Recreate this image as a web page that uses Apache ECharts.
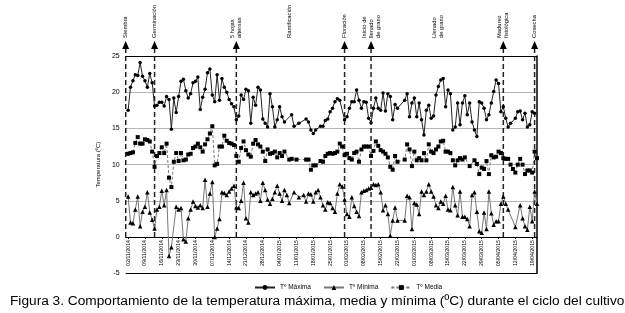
<!DOCTYPE html>
<html>
<head>
<meta charset="utf-8">
<script src="https://cdn.jsdelivr.net/npm/echarts@6.0.0/dist/echarts.min.js"></script>
<style>
  html, body { margin: 0; padding: 0; background: #fff; }
  #main { width: 625px; height: 313px; }
</style>
</head>
<body>
<div id="main"></div>
<script>
  // días contados desde el 02/11/2014 (día 0)
  const weekLabels = ['02/11/2014', '09/11/2014', '16/11/2014', '23/11/2014', '30/11/2014', '07/12/2014', '14/12/2014',
    '21/12/2014', '28/12/2014', '04/01/2015', '11/01/2015', '18/01/2015', '25/01/2015', '01/02/2015', '08/02/2015',
    '15/02/2015', '22/02/2015', '01/03/2015', '08/03/2015', '15/03/2015', '22/03/2015', '29/03/2015', '05/04/2015',
    '12/04/2015', '19/04/2015']

  const maxDays = [0, 1, 2, 3, 4, 5, 6, 7, 8, 9, 10, 11, 12, 13, 14, 15, 16, 17, 18, 19, 20, 21, 22, 23, 24, 25, 26, 27, 28, 29,
    30, 31, 32, 33, 34, 35, 36, 37, 38, 39, 40, 41, 42, 43, 44, 45, 46, 47, 48, 49, 50, 51, 52, 53, 54, 55, 56, 57, 58, 59,
    60, 61, 62, 63, 64, 65, 68, 69, 71, 74, 75, 76, 77, 78, 80, 81, 82, 83, 84, 85, 86, 87, 88, 90, 91, 92, 93, 94, 95, 96,
    97, 98, 99, 100, 101, 102, 103, 104, 105, 106, 107, 108, 109, 110, 111, 112, 115, 116, 117, 118, 119, 120, 121, 122, 123,
    124, 125, 126, 127, 128, 129, 130, 131, 132, 133, 134, 135, 136, 137, 138, 139, 140, 141, 142, 143, 144, 145, 146, 147,
    148, 149, 150, 151, 152, 153, 154, 155, 156, 157, 158, 159, 161, 162, 163, 164, 165, 166, 167, 168, 169]
  const maxValues = [17.5, 20.7, 21.6, 22.4, 22.3, 24.1, 22.2, 21.6, 20.7, 22.6, 21.3, 18.1, 18.2, 18.6, 18.6, 18.1, 19.4, 19.0,
    14.9, 19.2, 17.2, 19.4, 21.5, 21.8, 20.2, 19.2, 19.8, 21.3, 21.5, 22.1, 17.6, 19.3, 20.4, 22.7, 23.2, 19.6, 18.7, 22.4,
    18.9, 21.9, 20.7, 20.0, 19.0, 18.4, 18.0, 16.2, 16.7, 19.6, 19.0, 20.4, 20.2, 15.7, 19.3, 18.2, 20.7, 20.3, 16.3, 15.7,
    15.2, 19.8, 18.0, 15.2, 16.2, 18.0, 16.6, 15.9, 16.9, 15.3, 15.7, 16.3, 15.9, 14.8, 14.3, 14.8, 15.3, 15.3, 16.1, 16.3,
    17.3, 17.8, 18.7, 19.1, 18.9, 16.2, 16.6, 17.8, 18.7, 18.7, 20.3, 18.9, 17.8, 18.7, 18.6, 16.4, 15.8, 17.8, 19.2, 17.8,
    17.5, 19.9, 17.4, 19.8, 19.4, 16.2, 18.3, 17.8, 18.9, 19.8, 16.6, 18.5, 19.2, 16.6, 18.5, 16.2, 14.1, 17.5, 18.2, 16.4,
    16.7, 19.6, 20.8, 21.7, 21.9, 18.0, 20.3, 19.8, 14.8, 15.2, 18.5, 15.5, 18.5, 19.5, 16.9, 18.5, 15.9, 14.8, 13.9, 18.7,
    18.5, 17.8, 16.2, 16.9, 18.5, 20.1, 21.7, 21.2, 17.3, 18.0, 16.4, 15.2, 15.7, 16.4, 17.3, 17.4, 16.2, 17.1, 15.2, 15.5,
    17.3, 17.1]

  const minDays = [0, 1, 2, 3, 4, 5, 6, 7, 8, 9, 10, 11, 12, 13, 14, 15, 16, 17, 18, 20, 21, 22, 23, 24, 25, 26, 27, 28, 29,
    30, 31, 32, 33, 34, 35, 36, 37, 38, 39, 40, 41, 42, 43, 44, 45, 46, 47, 48, 49, 50, 51, 52, 53, 54, 55, 56, 57, 58, 59,
    60, 61, 62, 63, 64, 65, 66, 67, 69, 71, 73, 74, 75, 76, 77, 78, 79, 80, 81, 82, 83, 84, 85, 86, 87, 88, 89, 90, 91, 92,
    93, 94, 95, 96, 97, 98, 99, 100, 101, 102, 103, 104, 105, 106, 107, 108, 109, 110, 111, 112, 115, 116, 117, 118, 119, 120,
    121, 122, 123, 124, 125, 126, 127, 128, 129, 130, 131, 132, 133, 134, 135, 136, 137, 138, 139, 140, 141, 142, 143, 144,
    145, 146, 147, 148, 149, 150, 151, 152, 153, 154, 155, 156, 157, 158, 161, 163, 164, 165, 166, 167, 168, 169, 170]
  const minValues = [5.6, 2.0, 1.9, 3.8, 5.6, 1.5, 3.5, 4.2, 6.2, 3.4, 2.4, 1.2, 3.8, 4.2, 6.4, 4.4, 6.5, -2.6, -1.4, 4.2, 3.8,
    4.0, -0.3, -0.6, 2.6, 3.8, 4.9, 4.3, 4.1, 4.4, 4.0, 7.9, 4.2, 6.0, 7.6, 0.0, 1.2, 2.5, 6.2, 6.1, 5.8, 6.3, 6.7, 7.1, 4.1,
    4.0, 5.0, 7.5, 2.6, 2.0, 6.2, 5.8, 6.0, 6.2, 5.0, 7.5, 6.5, 5.2, 4.6, 5.3, 6.2, 7.1, 6.0, 5.0, 6.5, 5.8, 4.7, 6.2, 5.5,
    5.8, 4.9, 6.0, 5.9, 4.9, 6.2, 6.5, 5.5, 4.4, 3.8, 4.8, 4.7, 4.0, 3.5, 6.0, 7.3, 7.0, 5.2, 3.2, 2.8, 5.5, 4.3, 3.5, 2.9,
    6.2, 6.4, 6.5, 6.7, 6.8, 7.3, 7.2, 7.3, 6.2, 3.7, 4.4, 3.2, 0.2, 2.3, 4.1, 2.3, 2.3, 5.7, 5.5, 1.1, 4.7, 4.5, 3.2, 6.3,
    5.8, 6.3, 7.3, 6.3, 5.6, 4.4, 4.0, 4.9, 4.6, 5.7, 3.8, 3.7, 6.9, 4.4, 3.0, 6.3, 2.8, 2.8, 2.5, 1.5, 5.8, 6.2, 3.5, 0.8,
    0.6, 3.4, 1.1, 6.3, 3.3, 1.7, 2.2, 2.2, 4.6, 5.6, 4.6, 3.8, 1.4, 4.4, 2.6, 1.5, 1.0, 4.2, 2.2, 6.3, 4.6]

  const medDays = [0, 1, 2, 3, 4, 5, 6, 7, 8, 9, 10, 11, 12, 13, 14, 15, 16, 17, 18, 19, 20, 21, 22, 23, 24, 25, 26, 27, 28, 29,
    30, 31, 32, 33, 34, 35, 36, 37, 38, 39, 40, 41, 42, 43, 44, 45, 46, 47, 48, 49, 50, 51, 52, 53, 54, 55, 56, 57, 58, 59,
    60, 61, 62, 63, 64, 65, 67, 68, 70, 74, 75, 76, 77, 78, 80, 81, 82, 83, 84, 85, 86, 87, 88, 89, 90, 91, 92, 93, 94, 95,
    96, 97, 98, 99, 100, 101, 102, 103, 104, 105, 106, 107, 108, 109, 110, 111, 112, 115, 116, 117, 118, 119, 120, 121, 122,
    123, 124, 125, 126, 127, 128, 129, 130, 131, 132, 133, 134, 135, 136, 137, 138, 139, 140, 142, 144, 145, 146, 147, 148,
    149, 150, 151, 152, 153, 154, 155, 156, 157, 158, 159, 160, 161, 162, 163, 164, 165, 166, 167, 168, 169, 170]
  const medValues = [11.5, 11.6, 11.7, 13.0, 13.8, 12.9, 12.9, 13.5, 13.4, 13.2, 11.8, 9.7, 11.2, 11.6, 12.4, 11.6, 12.9, 8.2,
    6.9, 10.4, 11.6, 10.5, 11.6, 10.6, 10.7, 11.4, 11.5, 12.3, 12.5, 12.9, 12.4, 11.8, 12.8, 13.5, 14.3, 15.3, 9.9, 10.1,
    12.5, 12.5, 14.0, 13.3, 13.0, 12.9, 12.7, 11.2, 10.4, 12.3, 13.2, 12.0, 11.4, 11.1, 12.9, 13.4, 12.8, 12.5, 11.8, 10.5,
    12.1, 11.5, 11.6, 11.8, 11.0, 11.6, 11.2, 11.8, 10.7, 10.8, 10.7, 10.7, 10.7, 9.3, 9.9, 9.9, 10.5, 10.4, 11.2, 11.5,
    11.6, 11.5, 11.6, 11.8, 12.9, 12.5, 11.3, 11.5, 10.9, 10.7, 11.6, 11.8, 10.4, 12.1, 12.5, 12.5, 12.5, 11.2, 11.9, 13.2,
    12.6, 12.0, 11.8, 11.5, 11.0, 9.7, 9.3, 11.2, 10.4, 10.7, 12.8, 12.1, 9.8, 11.8, 10.6, 10.9, 10.6, 11.6, 10.6, 12.8,
    11.8, 11.6, 12.1, 12.5, 13.2, 13.3, 11.8, 11.8, 11.6, 10.6, 9.9, 10.6, 10.9, 10.7, 11.0, 9.8, 10.6, 10.1, 8.7, 9.6, 9.4,
    10.5, 8.7, 11.3, 11.0, 11.1, 11.8, 11.6, 10.9, 10.8, 10.8, 10.0, 9.4, 8.9, 10.0, 10.8, 10.0, 8.7, 9.2, 9.2, 8.9, 11.8,
    10.9]

  // etapas fenológicas
  const stageDays = [-1, 11, 45, 67, 90, 101, 129, 156, 169]
  const stageNames = ['Siembra', 'Germinación', '5 hojas\nalternas', 'Ramificación', 'Floración',
    'Inicio de\nllenado\nde grano', 'Llenado\nde grano', 'Madurez\nfisiológica', 'Cosecha']
  const stageArrow = [true, true, true, false, true, true, false, true, true]

  const pairs = (days, values) => days.map((d, i) => [d, values[i]])
  const tickDays = weekLabels.map((l, i) => i * 7)
  const FONT = 'Liberation Sans'
  // alto de 5 ºC en píxeles: el eje de fechas va sobre el 0, no en -5
  const plotTop = 56
  const plotBottom = 39.7
  const zeroOffset = (313 - plotTop - plotBottom) / 6

  const chart = echarts.init(document.getElementById('main'))
  chart.setOption({
    animation: false,
    textStyle: { fontFamily: FONT, color: '#000' },
    title: {
      text: 'Figura 3. Comportamiento de la temperatura máxima, media y mínima (ºC) durante el ciclo del cultivo',
      left: 5,
      top: 289,
      textStyle: { fontSize: 13.7, fontWeight: 'normal', fontFamily: FONT, color: '#000' }
    },
    legend: {
      left: 249,
      top: 279,
      itemWidth: 20,
      itemHeight: 6,
      itemGap: 12,
      textStyle: { fontSize: 6.5, fontFamily: FONT, color: '#000' },
      data: ['Tº Máxima', 'Tº Mínima', 'Tº Media']
    },
    grid: { left: 125.7, right: 88, top: plotTop, bottom: plotBottom },
    xAxis: {
      type: 'value',
      min: -1,
      max: 170,
      offset: -zeroOffset,
      axisLine: { onZero: false, lineStyle: { color: '#000', width: 1.2 } },
      axisTick: { show: true, customValues: tickDays, length: 2, lineStyle: { color: '#000' } },
      axisLabel: {
        customValues: tickDays,
        rotate: 90,
        fontSize: 5.2,
        margin: 3,
        color: '#000',
        formatter: (v) => weekLabels[Math.round(v / 7)]
      },
      splitLine: { show: false }
    },
    yAxis: [{
      type: 'value',
      min: -5,
      max: 25,
      interval: 5,
      name: 'Temperatura (ºC)',
      nameLocation: 'middle',
      nameGap: 21,
      nameTextStyle: { fontSize: 6, color: '#000' },
      axisLine: { show: false },
      axisTick: { show: false },
      axisLabel: { fontSize: 7, color: '#000', margin: 6 },
      splitLine: {
        show: true,
        lineStyle: { color: ['#000', '#000', '#b5b5b5', '#b5b5b5', '#b5b5b5', '#b5b5b5', '#000'], width: 1.2 }
      }
    }, {
      type: 'value',
      position: 'right',
      min: -5,
      max: 25,
      interval: 5,
      axisLine: { show: true, lineStyle: { color: '#000', width: 1.5 } },
      axisTick: { show: false },
      axisLabel: { show: false },
      splitLine: { show: false }
    }],
    series: [
      {
        type: 'custom',
        z: 1,
        silent: true,
        data: stageDays.map((d) => [d, 0]),
        renderItem: function (params, api) {
          const i = params.dataIndex
          const base = api.coord([api.value(0), 0])
          const top = api.coord([api.value(0), 25])
          const x = base[0]
          const tipY = top[1] - 15
          const children = []
          if (stageArrow[i]) {
            children.push({
              type: 'line',
              shape: { x1: x, y1: base[1], x2: x, y2: tipY + 8 },
              style: { stroke: '#222', lineWidth: 1.5, lineDash: [5, 3] }
            })
            children.push({
              type: 'polygon',
              shape: { points: [[x, tipY], [x - 3.5, tipY + 8], [x + 3.5, tipY + 8]] },
              style: { fill: '#000' }
            })
          }
          children.push({
            type: 'text',
            x: x,
            y: tipY - 3,
            rotation: Math.PI / 2,
            style: {
              text: stageNames[i],
              textAlign: 'left',
              textVerticalAlign: 'middle',
              fontSize: 5.8,
              lineHeight: 7,
              fontFamily: FONT,
              fill: '#000'
            }
          })
          return { type: 'group', children: children }
        }
      },
      {
        name: 'Tº Máxima',
        type: 'line',
        z: 3,
        data: pairs(maxDays, maxValues),
        symbol: 'circle',
        symbolSize: 3.5,
        itemStyle: { color: '#000' },
        lineStyle: { color: '#222', width: 1 }
      },
      {
        name: 'Tº Mínima',
        type: 'line',
        z: 3,
        data: pairs(minDays, minValues),
        symbol: 'triangle',
        symbolSize: 4.5,
        itemStyle: { color: '#000' },
        lineStyle: { color: '#777', width: 1 }
      },
      {
        name: 'Tº Media',
        type: 'line',
        z: 3,
        data: pairs(medDays, medValues),
        symbol: 'rect',
        symbolSize: 4,
        itemStyle: { color: '#000' },
        lineStyle: { color: '#777', width: 1, type: [3, 2] }
      }
    ]
  })
</script>
</body>
</html>
